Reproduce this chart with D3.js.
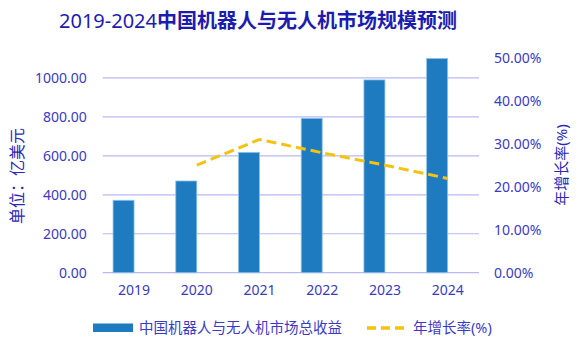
<!DOCTYPE html>
<html>
<head>
<meta charset="utf-8">
<script src="https://cdn.jsdelivr.net/npm/d3@7"></script>
<style>
  body { margin: 0; background: #fff; }
  text { font-family: "Noto Sans", "Noto Sans CJK SC", sans-serif; }
</style>
</head>
<body>
<script>
// data
const years = ["2019", "2020", "2021", "2022", "2023", "2024"];
const revenue = [372, 471, 618, 793, 990, 1100];           // 亿美元
const growthYears = ["2020", "2021", "2022", "2023", "2024"];
const growth = [0.251, 0.311, 0.280, 0.251, 0.220];         // 年增长率
const leftTicks = [0, 200, 400, 600, 800, 1000];
const rightTicks = [0, 0.1, 0.2, 0.3, 0.4, 0.5];

const width = 585, height = 346;
const plotL = 102.7, plotR = 479, plotT = 58.5, plotB = 272.7;
const txt = "#3a3ac8";

const svg = d3.select("body").append("svg")
    .attr("width", width)
    .attr("height", height);

const x = d3.scaleBand().domain(years).range([plotL, plotR]).padding(0);
const y = d3.scaleLinear().domain([0, 1100]).range([plotB, plotT]);
const y2 = d3.scaleLinear().domain([0, 0.5]).range([plotB, plotT]);

// title
const title = svg.append("text")
    .attr("x", 258).attr("y", 28)
    .attr("text-anchor", "middle")
    .attr("fill", "#1c1cb0")
    .style("font-size", "20px");
title.append("tspan").text("2019-2024");
title.append("tspan").style("font-weight", "bold").text("中国机器人与无人机市场规模预测");

// gridlines
svg.append("g")
    .selectAll("line")
    .data(leftTicks)
    .enter().append("line")
    .attr("x1", plotL).attr("x2", plotR)
    .attr("y1", d => y(d)).attr("y2", d => y(d))
    .attr("stroke", "#b9b9f2")
    .attr("stroke-width", 1.2);

// left axis
const gl = svg.append("g")
    .attr("transform", "translate(" + (plotL - 8) + ",0)")
    .call(d3.axisLeft(y).tickValues(leftTicks).tickSize(0).tickPadding(8).tickFormat(d3.format(".2f")));
gl.select(".domain").remove();
gl.selectAll("text").attr("fill", txt).style("font-size", "14px");

// right axis
const gr = svg.append("g")
    .attr("transform", "translate(" + (plotR + 7) + ",0)")
    .call(d3.axisRight(y2).tickValues(rightTicks).tickSize(0).tickPadding(8).tickFormat(d3.format(".2%")));
gr.select(".domain").remove();
gr.selectAll("text").attr("fill", txt).style("font-size", "14px");

// x axis
const gx = svg.append("g")
    .attr("transform", "translate(0," + plotB + ")")
    .call(d3.axisBottom(x).tickSize(0).tickPadding(12));
gx.select(".domain").remove();
gx.selectAll("text").attr("fill", txt).style("font-size", "14px");

// axis titles
svg.append("text")
    .attr("transform", "translate(23,176) rotate(-90)")
    .attr("text-anchor", "middle")
    .attr("fill", "#2a2ab8")
    .style("font-size", "16px")
    .text("单位：亿美元");

svg.append("text")
    .attr("transform", "translate(567,165) rotate(-90)")
    .attr("text-anchor", "middle")
    .attr("fill", "#2a2ab8")
    .style("font-size", "15px")
    .text("年增长率(%)");

// bars, sitting just left of each category centre
const barW = 21;
svg.append("g")
    .selectAll("rect")
    .data(years)
    .enter().append("rect")
    .attr("x", d => x(d) + x.bandwidth() / 2 - barW)
    .attr("y", (d, i) => y(revenue[i]))
    .attr("width", barW)
    .attr("height", (d, i) => plotB - y(revenue[i]))
    .attr("fill", "#1f7bbf")
    .attr("stroke", "#8ec3ea")
    .attr("stroke-width", 0.8);

// growth line
const line = d3.line()
    .x(function(d, i) { return x(growthYears[i]) + x.bandwidth() / 2; })
    .y(function(d) { return y2(d); });

svg.append("path")
    .datum(growth)
    .attr("d", line)
    .attr("fill", "none")
    .attr("stroke", "#f5c30f")
    .attr("stroke-width", 3)
    .attr("stroke-dasharray", "10,5");

// legend
const lg = svg.append("g");
lg.append("rect")
    .attr("x", 93).attr("y", 323.5)
    .attr("width", 40).attr("height", 8.5)
    .attr("fill", "#1f7bbf");
lg.append("text")
    .attr("x", 139).attr("y", 333)
    .attr("fill", txt)
    .style("font-size", "14.5px")
    .text("中国机器人与无人机市场总收益");
lg.append("line")
    .attr("x1", 367).attr("x2", 409)
    .attr("y1", 328).attr("y2", 328)
    .attr("stroke", "#f5c30f")
    .attr("stroke-width", 3.5)
    .attr("stroke-dasharray", "9,5");
lg.append("text")
    .attr("x", 413).attr("y", 333)
    .attr("fill", txt)
    .style("font-size", "14.5px")
    .text("年增长率(%)");
</script>
</body>
</html>
